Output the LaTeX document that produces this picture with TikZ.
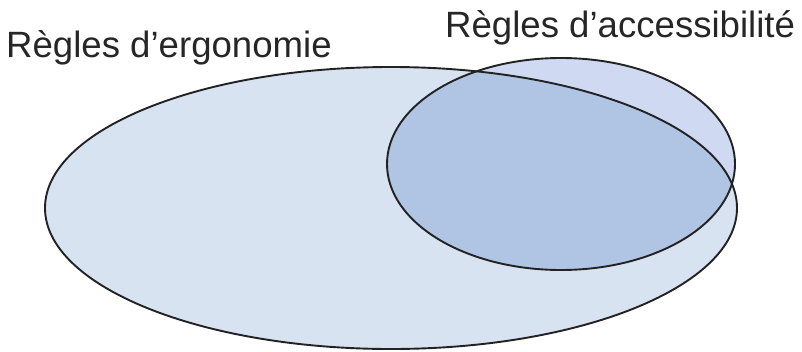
\documentclass[tikz,border=0pt]{standalone}
\usepackage{fontspec}
\setmainfont{Liberation Sans}
\definecolor{bigfill}{HTML}{D7E3F1}
\definecolor{smallfill}{HTML}{CFD9F1}
\definecolor{bothfill}{HTML}{B0C4E4}
\definecolor{edge}{HTML}{222222}
\begin{document}
\begin{tikzpicture}[x=1pt,y=-1pt,
  lab/.style={anchor=base west,inner sep=0pt,font=\fontsize{36.6}{44}\selectfont,text=black!85},
  outline/.style={draw=edge,line width=1.9pt}]
\useasboundingbox (0,0) rectangle (802,351);
\coordinate (bigc) at (391,208);
\coordinate (smallc) at (561,164);
\fill[bigfill] (bigc) ellipse [x radius=346,y radius=141];
\fill[smallfill] (smallc) ellipse [x radius=174,y radius=106];
\begin{scope}
  \clip (bigc) ellipse [x radius=346,y radius=141];
  \fill[bothfill] (smallc) ellipse [x radius=174,y radius=106];
\end{scope}
\draw[outline] (bigc) ellipse [x radius=346,y radius=141];
\draw[outline] (smallc) ellipse [x radius=174,y radius=106];
\node[lab] (ergo) at (6,57) {Règles d’ergonomie};
\node[lab] (acces) at (445,37) {Règles d’accessibilité};
\end{tikzpicture}
\end{document}
